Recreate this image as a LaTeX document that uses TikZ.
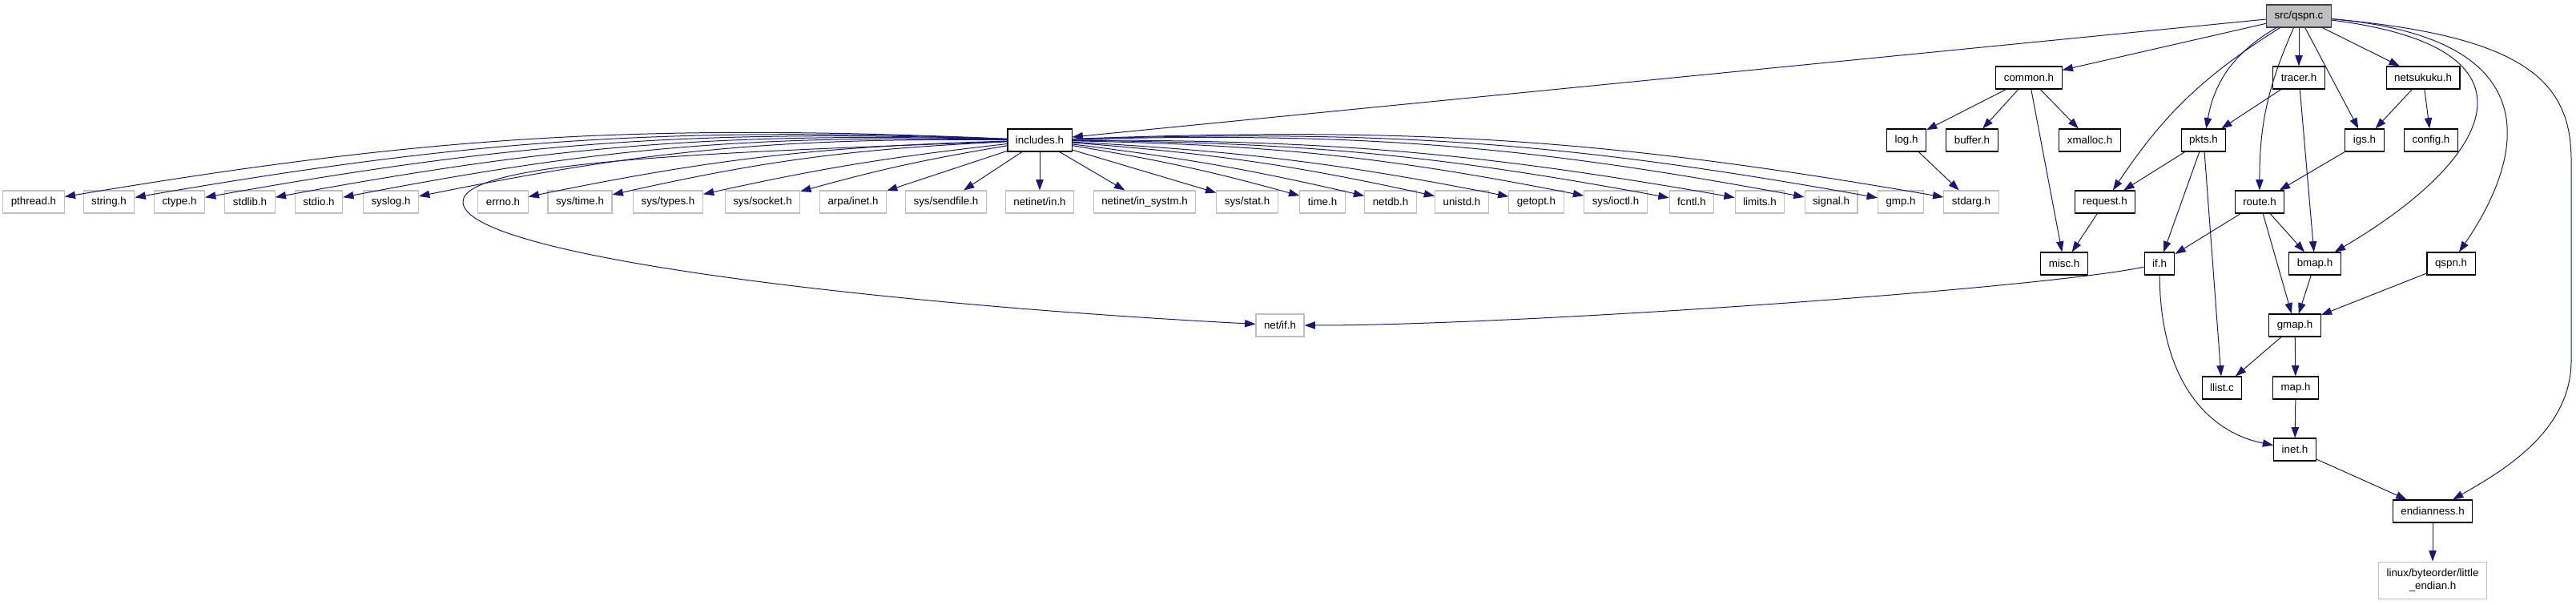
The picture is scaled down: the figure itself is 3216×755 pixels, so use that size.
\documentclass[tikz,border=0pt]{standalone}
\usepackage{fontspec}
\setmainfont{Liberation Sans}
\usetikzlibrary{arrows.meta,positioning}
\usepackage{xcolor}
\definecolor{edgeblue}{HTML}{191970}
\definecolor{extgray}{HTML}{BFBFBF}
\definecolor{rootgray}{HTML}{404040}

\begin{document}
\begin{tikzpicture}[
  x=0.75pt, y=0.75pt,
  inclbox/.style={rectangle, draw=black, line width=0.8pt, fill=white,
    minimum height=21pt, inner xsep=7.5pt, inner ysep=2pt,
    font=\fontsize{10}{12}\selectfont},
  sysbox/.style={inclbox, draw=extgray},
  srcbox/.style={inclbox, draw=rootgray, fill=extgray},
  dep/.style={draw=edgeblue, line width=0.75pt, -{Triangle[length=10pt,width=7pt]}}
]
\useasboundingbox (0,0) rectangle (3216,-755);

% top levels
\node[srcbox] (qspnc) at (2870,-20) {src/qspn.c};

\node[inclbox] (common) at (2533,-97) {common.h};
\node[inclbox] (tracer) at (2870,-97) {tracer.h};
\node[inclbox] (netsukuku) at (3025,-97) {netsukuku.h};

\node[inclbox] (includes) at (1298,-175) {includes.h};
\node[inclbox] (logh) at (2380,-175) {log.h};
\node[inclbox] (buffer) at (2462,-175) {buffer.h};
\node[inclbox] (xmalloc) at (2609,-175) {xmalloc.h};
\node[inclbox] (pkts) at (2751,-175) {pkts.h};
\node[inclbox] (igs) at (2952,-175) {igs.h};
\node[inclbox] (config) at (3035,-175) {config.h};

% system headers
\node[sysbox] (pthread) at (42,-252) {pthread.h};
\node[sysbox] (string) at (136,-252) {string.h};
\node[sysbox] (ctype) at (224,-252) {ctype.h};
\node[sysbox] (stdlib) at (312,-252) {stdlib.h};
\node[sysbox] (stdio) at (398,-252) {stdio.h};
\node[sysbox] (syslog) at (488,-252) {syslog.h};
\node[sysbox] (errno) at (628,-252) {errno.h};
\node[sysbox] (systime) at (724,-252) {sys/time.h};
\node[sysbox] (systypes) at (834,-252) {sys/types.h};
\node[sysbox] (syssocket) at (952,-252) {sys/socket.h};
\node[sysbox] (arpainet) at (1065,-252) {arpa/inet.h};
\node[sysbox] (syssendfile) at (1181,-252) {sys/sendfile.h};
\node[sysbox] (netinetin) at (1298,-252) {netinet/in.h};
\node[sysbox] (netinetsystm) at (1429,-252) {netinet/in\_systm.h};
\node[sysbox] (sysstat) at (1557,-252) {sys/stat.h};
\node[sysbox] (timeh) at (1651,-252) {time.h};
\node[sysbox] (netdb) at (1736,-252) {netdb.h};
\node[sysbox] (unistd) at (1825,-252) {unistd.h};
\node[sysbox] (getopt) at (1918,-252) {getopt.h};
\node[sysbox] (sysioctl) at (2017,-252) {sys/ioctl.h};
\node[sysbox] (fcntl) at (2112,-252) {fcntl.h};
\node[sysbox] (limits) at (2197,-252) {limits.h};
\node[sysbox] (signal) at (2286,-252) {signal.h};
\node[sysbox] (gmp) at (2373,-252) {gmp.h};
\node[sysbox] (stdarg) at (2461,-252) {stdarg.h};
\node[inclbox] (request) at (2628,-252) {request.h};
\node[inclbox] (route) at (2821,-252) {route.h};

\node[inclbox] (misc) at (2577,-329) {misc.h};
\node[inclbox] (ifh) at (2696,-329) {if.h};
\node[inclbox] (bmap) at (2890,-329) {bmap.h};
\node[inclbox] (qspnh) at (3060,-329) {qspn.h};

\node[sysbox] (netif) at (1598,-406) {net/if.h};
\node[inclbox] (gmap) at (2865,-406) {gmap.h};
\node[inclbox] (llist) at (2774,-484) {llist.c};
\node[inclbox] (maph) at (2866,-484) {map.h};
\node[inclbox] (inet) at (2865,-561) {inet.h};
\node[inclbox] (endian) at (3037,-638) {endianness.h};
\node[sysbox, align=center, minimum height=34.5pt, below=36pt of endian] (littleend)
  {linux/byteorder/little\\\_endian.h};

% src/qspn.c
\draw[dep] (qspnc) -- (includes);
\draw[dep] (qspnc) -- (common);
\draw[dep] (qspnc) to[bend right=12] (request);
\draw[dep] (qspnc) to[bend right=25] (pkts);
\draw[dep] (qspnc) -- (tracer);
\draw[dep] (qspnc) to[bend right=12] (route);
\draw[dep] (qspnc) -- (igs);
\draw[dep] (qspnc) -- (netsukuku);
\draw[dep] (qspnc) .. controls (3190,-60) and (3110,-200) .. (bmap);
\draw[dep] (qspnc) .. controls (3210,-50) and (3135,-220) .. (qspnh);
\draw[dep] (qspnc) .. controls (3150,-45) and (3210,-100) .. (3210,-200)
  -- (3210,-450) .. controls (3210,-540) and (3120,-590) .. (endian);

% second level
\draw[dep] (common) -- (logh);
\draw[dep] (common) -- (buffer);
\draw[dep] (common) -- (misc);
\draw[dep] (common) -- (xmalloc);
\draw[dep] (tracer) -- (pkts);
\draw[dep] (tracer) -- (bmap);
\draw[dep] (netsukuku) -- (igs);
\draw[dep] (netsukuku) -- (config);

% includes.h
\draw[dep] (includes) to[bend right=6] (pthread);
\draw[dep] (includes) to[bend right=6] (string);
\draw[dep] (includes) to[bend right=6] (ctype);
\draw[dep] (includes) to[bend right=6] (stdlib);
\draw[dep] (includes) to[bend right=6] (stdio);
\draw[dep] (includes) to[bend right=6] (syslog);
\draw[dep] (includes) to[bend right=5] (errno);
\draw[dep] (includes) to[bend right=5] (systime);
\draw[dep] (includes) to[bend right=3] (systypes);
\draw[dep] (includes) to[bend right=3] (syssocket);
\draw[dep] (includes) -- (arpainet);
\draw[dep] (includes) -- (syssendfile);
\draw[dep] (includes) -- (netinetin);
\draw[dep] (includes) -- (netinetsystm);
\draw[dep] (includes) -- (sysstat);
\draw[dep] (includes) to[bend left=3] (timeh);
\draw[dep] (includes) to[bend left=3] (netdb);
\draw[dep] (includes) to[bend left=4] (unistd);
\draw[dep] (includes) to[bend left=4] (getopt);
\draw[dep] (includes) to[bend left=5] (sysioctl);
\draw[dep] (includes) to[bend left=5] (fcntl);
\draw[dep] (includes) to[bend left=5] (limits);
\draw[dep] (includes) to[bend left=6] (signal);
\draw[dep] (includes) to[bend left=6] (gmp);
\draw[dep] (includes) to[bend left=6] (stdarg);
\draw[dep] (includes) .. controls (900,-190) and (578,-200) .. (578,-252)
  .. controls (578,-320) and (1100,-380) .. (netif);

% lower levels
\draw[dep] (logh) -- (stdarg);
\draw[dep] (pkts) -- (request);
\draw[dep] (pkts) -- (ifh);
\draw[dep] (pkts) -- (llist);
\draw[dep] (igs) -- (route);
\draw[dep] (request) -- (misc);
\draw[dep] (route) -- (ifh);
\draw[dep] (route) -- (bmap);
\draw[dep] (route) -- (gmap);
\draw[dep] (bmap) -- (gmap);
\draw[dep] (qspnh) -- (gmap);
\draw[dep] (ifh) .. controls (2550,-360) and (1900,-406) .. (netif);
\draw[dep] (ifh) .. controls (2697,-480) and (2760,-540) .. (inet);
\draw[dep] (gmap) -- (llist);
\draw[dep] (gmap) -- (maph);
\draw[dep] (maph) -- (inet);
\draw[dep] (inet) -- (endian);
\draw[dep] (endian) -- (littleend);

\end{tikzpicture}
\end{document}
